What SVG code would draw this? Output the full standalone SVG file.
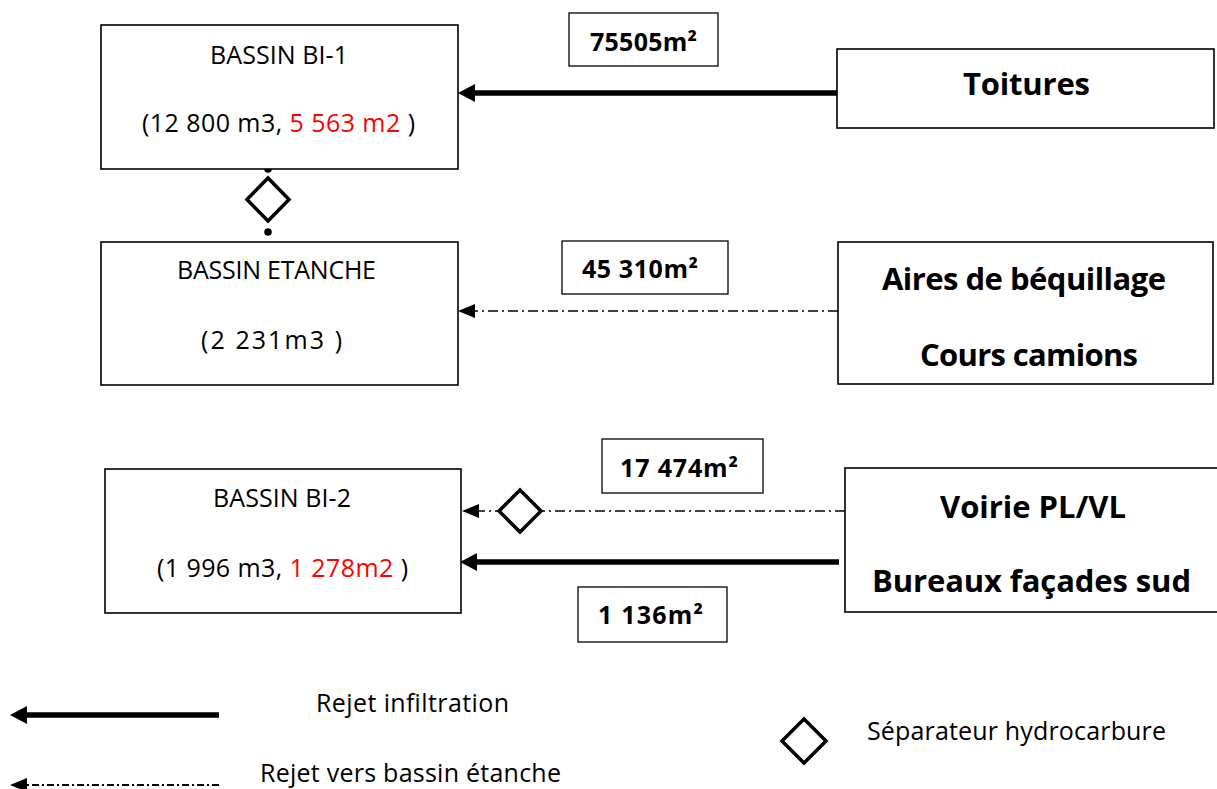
<svg xmlns="http://www.w3.org/2000/svg" width="1217" height="789" viewBox="0 0 1217 789">
<style>
.box{fill:#fff;stroke:#000;stroke-width:1.6}
.lbl{fill:#fff;stroke:#000;stroke-width:1.3}
.t{font-family:"Open Sans","Liberation Sans",sans-serif;font-size:25px;fill:#000;text-anchor:middle}
.b{font-family:"Open Sans","Liberation Sans",sans-serif;font-size:31px;font-weight:bold;fill:#000;text-anchor:middle}
.n{font-family:"Open Sans","Liberation Sans",sans-serif;font-size:25px;font-weight:bold;fill:#000;text-anchor:middle}
.red{fill:#ff0000}
.solid{stroke:#000;stroke-width:5.5;fill:none}
.dd{stroke:#000;stroke-width:1.3;fill:none;stroke-dasharray:10 4 2 4}
.ddl{stroke:#000;stroke-width:1.8;fill:none;stroke-dasharray:7 3 2 3}
.sep{fill:#fff;stroke:#000;stroke-width:3.5}
</style>
<defs>
<marker id="aS" markerUnits="userSpaceOnUse" viewBox="0 0 17 18" markerWidth="17" markerHeight="18" refX="5" refY="9" orient="auto"><path d="M0,0 L17,9 L0,18 Z" fill="#000"/></marker>
<marker id="aD" markerUnits="userSpaceOnUse" viewBox="0 0 17 14" markerWidth="17" markerHeight="14" refX="15" refY="7" orient="auto"><path d="M0,0 L17,7 L0,14 Z" fill="#000"/></marker>
</defs>

<g id="connectors">
<line class="solid" x1="838" y1="93" x2="470" y2="93" marker-end="url(#aS)"/>
<line class="dd" x1="838" y1="311" x2="460" y2="311" marker-end="url(#aD)"/>
<line class="dd" x1="845" y1="511" x2="464" y2="511" marker-end="url(#aD)"/>
<line class="solid" x1="839" y1="562" x2="472" y2="562" marker-end="url(#aS)"/>
<circle cx="268" cy="169" r="3.8" fill="#000"/>
<circle cx="268" cy="232" r="3.8" fill="#000"/>
<path class="sep" d="M268,178 L289,199.5 L268,221 L247,199.5 Z"/>
<path class="sep" d="M520,490 L541,511 L520,532 L499,511 Z"/>
</g>

<g id="bassin-bi1">
<rect class="box" x="101" y="25" width="357" height="144"/>
<text class="t" x="279" y="64" textLength="138">BASSIN BI-1</text>
<text class="t" x="278.5" y="132" textLength="273">(12 800 m3, <tspan class="red">5 563 m2</tspan> )</text>
</g>

<g id="bassin-etanche">
<rect class="box" x="101" y="242" width="357" height="143"/>
<text class="t" x="276.5" y="279" textLength="199">BASSIN ETANCHE</text>
<text class="t" x="271.5" y="349" textLength="141">(2 231m3 )</text>
</g>

<g id="bassin-bi2">
<rect class="box" x="105" y="469" width="356" height="144"/>
<text class="t" x="282" y="507" textLength="138">BASSIN BI-2</text>
<text class="t" x="282.5" y="577" textLength="251">(1 996 m3, <tspan class="red">1 278m2</tspan> )</text>
</g>

<g id="toitures">
<rect class="box" x="837" y="49" width="377" height="79"/>
<text class="b" x="1026.5" y="95" textLength="127">Toitures</text>
</g>

<g id="aires">
<rect class="box" x="838" y="242" width="375" height="142"/>
<text class="b" x="1024" y="290" textLength="284">Aires de béquillage</text>
<text class="b" x="1029" y="366" textLength="218">Cours camions</text>
</g>

<g id="voirie">
<rect class="box" x="845" y="468" width="375" height="144"/>
<text class="b" x="1033" y="518" textLength="186">Voirie PL/VL</text>
<text class="b" x="1031.5" y="592" textLength="319">Bureaux façades sud</text>
</g>

<g id="label-75505">
<rect class="lbl" x="569" y="13" width="149" height="53"/>
<text class="n" x="643.5" y="51" textLength="107">75505m²</text>
</g>
<g id="label-45310">
<rect class="lbl" x="562" y="241" width="166" height="53"/>
<text class="n" x="640" y="278" textLength="116">45 310m²</text>
</g>
<g id="label-17474">
<rect class="lbl" x="602" y="439" width="161" height="54"/>
<text class="n" x="679" y="477" textLength="118">17 474m²</text>
</g>
<g id="label-1136">
<rect class="lbl" x="578" y="587" width="149" height="55"/>
<text class="n" x="650.5" y="624" textLength="105">1 136m²</text>
</g>

<g id="legend">
<line class="solid" x1="219" y1="715" x2="22" y2="715" marker-end="url(#aS)"/>
<text class="t" x="412.5" y="712" textLength="193">Rejet infiltration</text>
<line class="ddl" x1="219" y1="785" x2="12" y2="785" marker-end="url(#aD)"/>
<text class="t" x="410.5" y="782" textLength="301">Rejet vers bassin étanche</text>
<path class="sep" d="M804,719 L826,741 L804,763 L782,741 Z"/>
<text class="t" x="1016.5" y="740" textLength="299">Séparateur hydrocarbure</text>
</g>
</svg>
